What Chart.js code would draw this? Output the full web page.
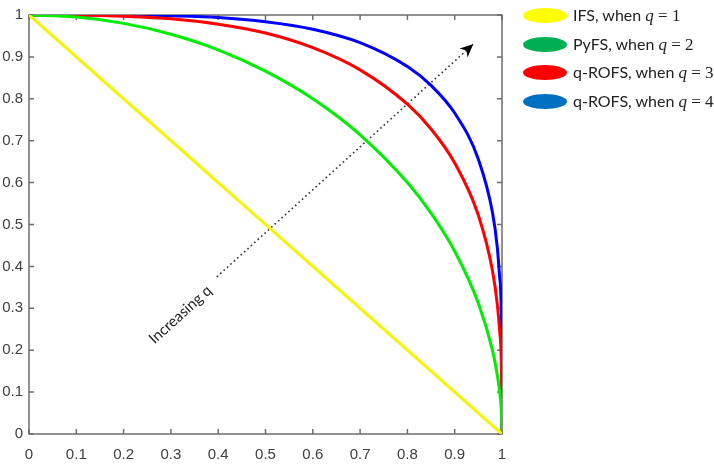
<!DOCTYPE html>
<html>
<head>
  <title>q-ROFS boundary curves</title>
  <script src="https://cdn.jsdelivr.net/npm/chart.js"></script>
  <style>
    body { margin: 0; background: #fff; }
    #wrap { position: relative; width: 714px; height: 464px; }
    #legend { position: absolute; left: 523px; top: 0; width: 200px; }
    .row { position: absolute; left: 0; height: 20px; white-space: nowrap; }
    .dot { position: absolute; left: 0; top: 3px; width: 44px; height: 15px; border-radius: 50%; }
    .lbl { position: absolute; left: 50px; top: 0; font-family: Lato, "Liberation Sans", sans-serif; font-size: 16px; color: #222; line-height: 20px; }
    .lbl i, .lbl span { font-family: "Liberation Serif", serif; font-size: 17px; }
  </style>
</head>
<body>
  <div id="wrap">
    <canvas id="chart" width="714" height="464"></canvas>
    <div id="legend"></div>
  </div>
  <script>
    const xs = [0, 0.1, 0.2, 0.3, 0.4, 0.5, 0.6, 0.7, 0.8, 0.85, 0.9, 0.95, 0.98, 0.99, 0.995, 0.999, 1];
    const ifsY = [1, 0.9, 0.8, 0.7, 0.6, 0.5, 0.4, 0.3, 0.2, 0.15, 0.1, 0.05, 0.02, 0.01, 0.005, 0.001, 0];
    const pyfsY = [1, 0.995, 0.980, 0.954, 0.917, 0.866, 0.800, 0.714, 0.600, 0.527, 0.436, 0.312, 0.199, 0.141, 0.100, 0.045, 0];
    const q3Y = [1, 1.000, 0.997, 0.991, 0.978, 0.957, 0.922, 0.869, 0.787, 0.728, 0.647, 0.522, 0.389, 0.310, 0.246, 0.144, 0];
    const q4Y = [1, 1.000, 1.000, 0.998, 0.994, 0.984, 0.966, 0.934, 0.877, 0.832, 0.766, 0.656, 0.528, 0.446, 0.375, 0.251, 0];
    const arrowX = [0.397, 0.939];
    const arrowY = [0.375, 0.930];
    const arrowText = "Increasing q";

    const legendItems = [
      { name: "IFS, when ", q: "1", color: "#ffff00" },
      { name: "PyFS, when ", q: "2", color: "#00b050" },
      { name: "q-ROFS, when ", q: "3", color: "#ff0000" },
      { name: "q-ROFS, when ", q: "4", color: "#0070c0" }
    ];

    const legend = document.getElementById("legend");
    legendItems.forEach((it, i) => {
      const row = document.createElement("div");
      row.className = "row";
      row.style.top = (5 + i * 28.5) + "px";
      row.innerHTML = `<div class="dot" style="background:${it.color}"></div>` +
        `<div class="lbl">${it.name}<i>q</i><span> = ${it.q}</span></div>`;
      legend.appendChild(row);
    });

    function pts(xv, yv) {
      return xv.map((x, i) => ({ x: x, y: yv[i] }));
    }

    const frame = {
      id: "frame",
      beforeDatasetsDraw(chart) {
        const ctx = chart.ctx, a = chart.chartArea;
        const sx = chart.scales.x, sy = chart.scales.y;
        ctx.save();
        ctx.strokeStyle = "#6e6e6e";
        ctx.lineWidth = 1.5;
        ctx.strokeRect(a.left, a.top, a.right - a.left, a.bottom - a.top);
        ctx.beginPath();
        sx.ticks.forEach(t => {
          const p = sx.getPixelForValue(t.value);
          ctx.moveTo(p, a.bottom); ctx.lineTo(p, a.bottom - 5);
          ctx.moveTo(p, a.top); ctx.lineTo(p, a.top + 5);
        });
        sy.ticks.forEach(t => {
          const p = sy.getPixelForValue(t.value);
          ctx.moveTo(a.left, p); ctx.lineTo(a.left + 5, p);
          ctx.moveTo(a.right, p); ctx.lineTo(a.right - 5, p);
        });
        ctx.stroke();
        ctx.restore();
      },
      afterDatasetsDraw(chart) {
        const ctx = chart.ctx;
        const sx = chart.scales.x, sy = chart.scales.y;
        const x0 = sx.getPixelForValue(arrowX[0]), y0 = sy.getPixelForValue(arrowY[0]);
        const x1 = sx.getPixelForValue(arrowX[1]), y1 = sy.getPixelForValue(arrowY[1]);
        const ang = Math.atan2(y1 - y0, x1 - x0);
        ctx.save();
        // arrow head
        ctx.translate(x1, y1);
        ctx.rotate(ang);
        ctx.fillStyle = "#000";
        ctx.beginPath();
        ctx.moveTo(0, 0);
        ctx.lineTo(-13, -6);
        ctx.lineTo(-9, 0);
        ctx.lineTo(-13, 6);
        ctx.closePath();
        ctx.fill();
        ctx.restore();
        // label
        ctx.save();
        ctx.translate(sx.getPixelForValue(0.32), sy.getPixelForValue(0.285));
        ctx.rotate(ang);
        ctx.fillStyle = "#222";
        ctx.font = "15px Lato, 'Liberation Sans', sans-serif";
        ctx.textAlign = "center";
        ctx.textBaseline = "middle";
        ctx.fillText(arrowText, 0, 0);
        ctx.restore();
      }
    };

    const tickFont = { family: "'Liberation Sans', Arial, sans-serif", size: 15 };
    const fmt = v => String(Math.round(v * 10) / 10);

    new Chart(document.getElementById("chart"), {
      type: "scatter",
      data: {
        datasets: [
          { label: "IFS", data: pts(xs, ifsY), borderColor: "#f5f500", borderWidth: 3, showLine: true, pointRadius: 0 },
          { label: "PyFS", data: pts(xs, pyfsY), borderColor: "#00ee00", borderWidth: 3, showLine: true, pointRadius: 0, cubicInterpolationMode: "monotone" },
          { label: "q3", data: pts(xs, q3Y), borderColor: "#ff0000", borderWidth: 3, showLine: true, pointRadius: 0, cubicInterpolationMode: "monotone" },
          { label: "q4", data: pts(xs, q4Y), borderColor: "#0000ff", borderWidth: 3, showLine: true, pointRadius: 0, cubicInterpolationMode: "monotone" },
          { label: "arrow", data: pts(arrowX, arrowY), borderColor: "#333", borderWidth: 1.6, borderDash: [1.6, 3], showLine: true, pointRadius: 0 }
        ]
      },
      options: {
        responsive: false,
        animation: false,
        layout: { padding: { top: 7, right: 212, left: 0, bottom: 0 } },
        plugins: { legend: { display: false }, tooltip: { enabled: false } },
        scales: {
          x: {
            type: "linear", min: 0, max: 1,
            ticks: { stepSize: 0.1, color: "#404040", font: tickFont, padding: 12, callback: fmt },
            grid: { display: false, drawTicks: false },
            border: { display: false },
            afterFit(s) { s.height = 30; }
          },
          y: {
            type: "linear", min: 0, max: 1,
            ticks: { stepSize: 0.1, color: "#404040", font: tickFont, padding: 6, callback: fmt },
            grid: { display: false, drawTicks: false },
            border: { display: false },
            afterFit(s) { s.width = 29; }
          }
        }
      },
      plugins: [frame]
    });
  </script>
</body>
</html>
